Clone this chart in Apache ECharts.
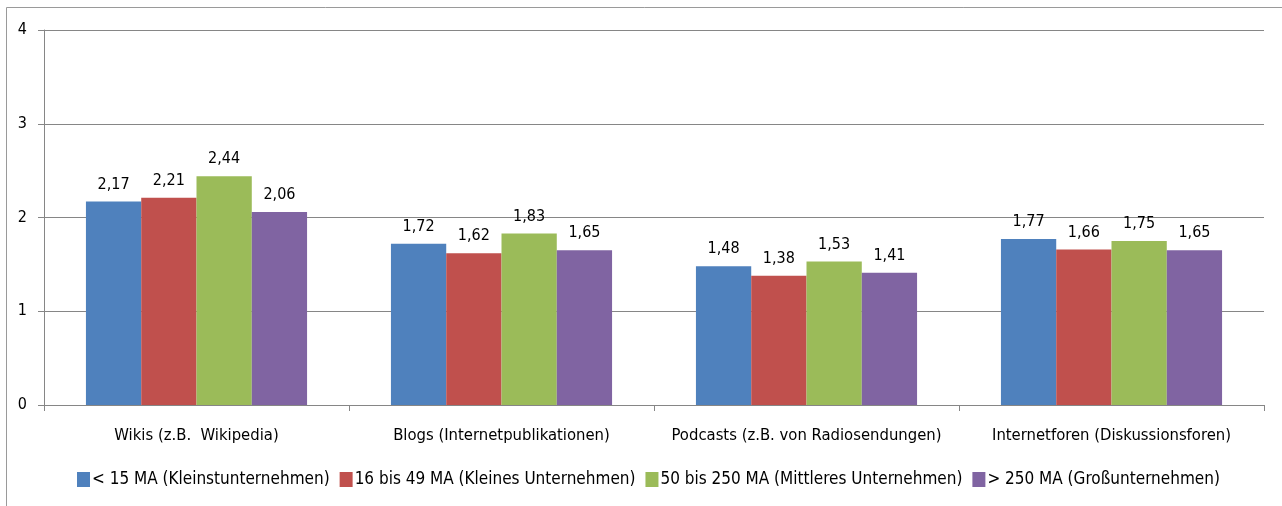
<!DOCTYPE html>
<html>
<head>
<meta charset="utf-8">
<script src="https://cdn.jsdelivr.net/npm/echarts@6/dist/echarts.min.js"></script>
<style>
  html, body { margin: 0; padding: 0; background: #fff; }
  #chart { width: 1282px; height: 506px; }
</style>
</head>
<body>
<div id="chart"></div>
<script>
// Categories and series values
const categories = [
  'Wikis (z.B.  Wikipedia)',
  'Blogs (Internetpublikationen)',
  'Podcasts (z.B. von Radiosendungen)',
  'Internetforen (Diskussionsforen)'
];
const seriesNames = [
  '< 15 MA (Kleinstunternehmen)',
  '16 bis 49 MA (Kleines Unternehmen)',
  '50 bis 250 MA (Mittleres Unternehmen)',
  '> 250 MA (Großunternehmen)'
];
const kleinst = [2.17, 1.72, 1.48, 1.77];
const klein = [2.21, 1.62, 1.38, 1.66];
const mittel = [2.44, 1.83, 1.53, 1.75];
const gross = [2.06, 1.65, 1.41, 1.65];
const yTicks = [0, 1, 2, 3, 4];

const colors = ['#4F81BD', '#C0504D', '#9BBB59', '#8064A2'];
const font = '"Liberation Sans Narrow", "DejaVu Sans Condensed", "Open Sans", sans-serif';
const seriesData = [kleinst, klein, mittel, gross];

const chart = echarts.init(document.getElementById('chart'), null, { renderer: 'canvas' });
chart.setOption({
  animation: false,
  color: colors,
  textStyle: { fontFamily: font },
  graphic: [{
    type: 'rect',
    shape: { x: 6.5, y: 7.5, width: 1300, height: 530 },
    style: { fill: 'none', stroke: '#9a9a9a', lineWidth: 1 },
    silent: true,
    z: -1
  }],
  grid: { left: 44, right: 18, top: 30, bottom: 101, containLabel: false },
  legend: {
    bottom: 13,
    left: 72,
    itemWidth: 13,
    itemHeight: 15,
    itemGap: 10,
    icon: 'rect',
    textStyle: { fontFamily: font, fontSize: 17, color: '#000', padding: [0, 0, 0, -3] },
    data: seriesNames
  },
  xAxis: {
    type: 'category',
    data: categories,
    axisLine: { lineStyle: { color: '#868686', width: 1 } },
    axisTick: { show: true, interval: 0, length: 6, alignWithLabel: false, lineStyle: { color: '#868686' } },
    axisLabel: { interval: 0, color: '#000', fontSize: 16.5, fontFamily: font, margin: 22 },
    splitLine: { show: false }
  },
  yAxis: {
    type: 'value',
    min: yTicks[0],
    max: yTicks[yTicks.length - 1],
    interval: 1,
    axisLine: { show: true, lineStyle: { color: '#868686', width: 1 } },
    axisTick: { show: true, length: 6, lineStyle: { color: '#868686' } },
    axisLabel: { color: '#000', fontSize: 16, fontFamily: font, margin: 17 },
    splitLine: { show: true, lineStyle: { color: '#868686', width: 1 } }
  },
  series: seriesNames.map((name, i) => ({
    name,
    type: 'bar',
    data: seriesData[i],
    barGap: '0%',
    barCategoryGap: '27.5%',
    itemStyle: { color: colors[i] },
    label: {
      show: true,
      position: 'top',
      distance: 9,
      color: '#000',
      fontSize: 16,
      fontFamily: font,
      formatter: p => p.value.toFixed(2).replace('.', ',')
    }
  }))
});
</script>
</body>
</html>
